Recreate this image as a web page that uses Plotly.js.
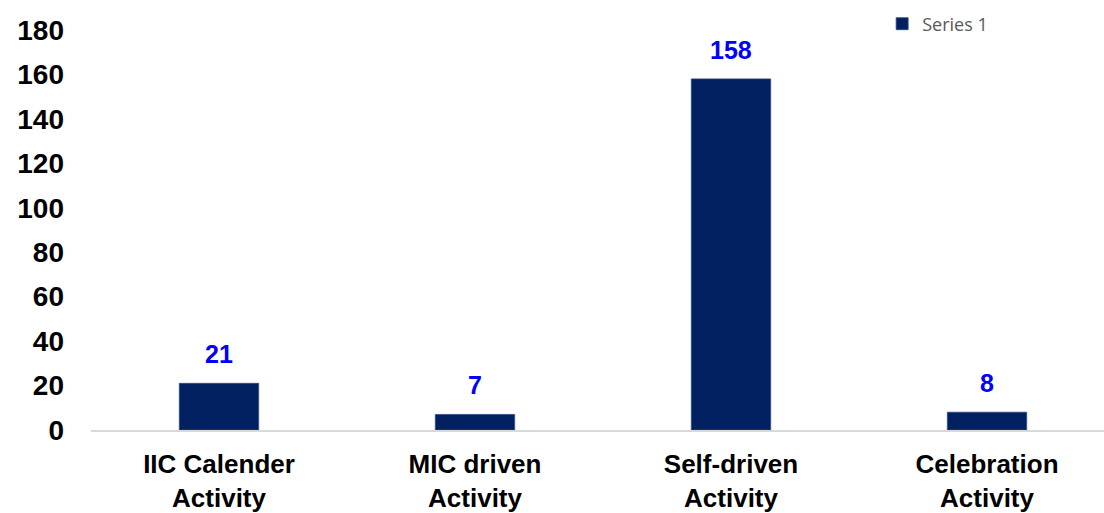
<!DOCTYPE html>
<html>
<head>
<meta charset="utf-8">
<script src="https://cdn.plot.ly/plotly-3.0.1.min.js"></script>
<style>html,body{margin:0;padding:0;background:#fff;}#chart{width:1104px;height:513px;}</style>
</head>
<body>
<div id="chart"></div>
<script>
const categories = ["IIC Calender<br>Activity", "MIC driven<br>Activity", "Self-driven<br>Activity", "Celebration<br>Activity"];
const values = [21, 7, 158, 8];
const seriesName = "Series 1";
const yTicks = [0, 20, 40, 60, 80, 100, 120, 140, 160, 180];

const trace = {
  type: 'bar',
  x: categories,
  y: values,
  name: seriesName,
  width: 0.31,
  marker: {color: '#002060', line: {color: '#2F4A85', width: 0.8}},
  showlegend: true,
  hoverinfo: 'none'
};

const annotations = categories.map((c, i) => ({
  x: c, y: values[i], xref: 'x', yref: 'y',
  text: String(values[i]),
  showarrow: false, yanchor: 'bottom', yshift: 13,
  font: {family: 'Liberation Sans, Arial, sans-serif', size: 25, color: '#0000FF', weight: 'bold'}
}));

const layout = {
  width: 1104, height: 513,
  margin: {l: 91, r: 0, t: 30, b: 83},
  paper_bgcolor: '#ffffff', plot_bgcolor: '#ffffff',
  xaxis: {
    type: 'category',
    range: [-0.5, 3.457],
    showline: true, linecolor: '#D9D9D9', linewidth: 2,
    showgrid: false, zeroline: false, ticks: '',
    ticklabelstandoff: 10,
    tickfont: {family: 'Liberation Sans, Arial, sans-serif', size: 26, color: '#000000', weight: 'bold'}
  },
  yaxis: {
    range: [0, 180],
    tickmode: 'array', tickvals: yTicks, ticktext: yTicks.map(String),
    showline: false, showgrid: false, zeroline: false, ticks: '',
    ticklabelstandoff: 26,
    tickfont: {family: 'Liberation Sans, Arial, sans-serif', size: 28, color: '#000000', weight: 'bold'}
  },
  legend: {
    x: 0.781, y: 1.015, xanchor: 'left', yanchor: 'middle',
    bgcolor: 'rgba(0,0,0,0)',
    font: {family: 'Open Sans, sans-serif', size: 18, color: '#595959'}
  },
  annotations: annotations
};

Plotly.newPlot('chart', [trace], layout, {staticPlot: true, displayModeBar: false});
</script>
</body>
</html>
